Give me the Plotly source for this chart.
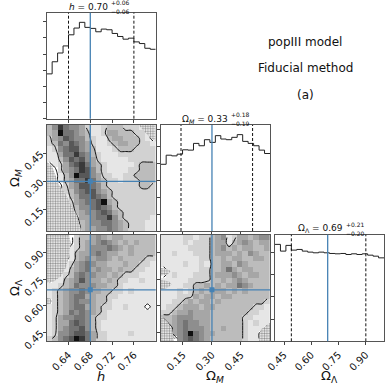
import numpy as np
import plotly.graph_objects as go

W = H = 387
FONT = "DejaVu Sans"
TRUTH_COLOR = "#4682b4"
FRAME = "#555555"

# parameters: h, Omega_M, Omega_Lambda
axis_labels = ["<i>h</i>", "Ω<sub><i>M</i></sub>", "Ω<sub>Λ</sub>"]
medians = [0.70, 0.33, 0.69]
err_hi = [0.06, 0.18, 0.21]
err_lo = [0.06, 0.19, 0.20]
truths = [0.68, 0.30, 0.69]
ranges = [(0.60, 0.80), (0.035, 0.60), (0.40, 1.00)]
tick_vals = [[0.64, 0.68, 0.72, 0.76], [0.15, 0.30, 0.45], [0.45, 0.60, 0.75, 0.90]]

# 1D histograms (20 bins over each range)
h_counts = [133, 169, 195, 216, 249, 269, 286, 271, 268, 258,
            266, 264, 253, 244, 236, 239, 228, 223, 209, 206]
om_counts = [198, 225, 223, 228, 241, 240, 260, 253, 271, 263,
             283, 273, 271, 278, 286, 266, 260, 253, 240, 230]
ol_counts = [288, 268, 285, 271, 273, 268, 265, 263, 265, 263,
             261, 260, 261, 258, 260, 258, 260, 256, 253, 248]
hist_counts = [h_counts, om_counts, ol_counts]
hist_dtick = [48, 50, 66]

# 2D density (20x20, rows listed from top of panel to bottom)
dens_h_om = [
    [3, 5, 8, 6, 5, 5, 4, 2, 1, 1, 2, 3, 3, 3, 2, 2, 2, 1, 0, 0],
    [3, 4, 9, 6, 6, 5, 4, 3, 1, 1, 2, 4, 4, 3, 3, 3, 2, 2, 1, 0],
    [2, 4, 5, 7, 6, 5, 5, 3, 2, 1, 1, 3, 4, 4, 3, 3, 3, 2, 1, 0],
    [2, 3, 6, 5, 7, 6, 5, 4, 2, 1, 1, 2, 3, 4, 4, 3, 3, 2, 2, 1],
    [1, 2, 5, 6, 7, 7, 5, 4, 3, 1, 1, 1, 2, 3, 3, 3, 2, 2, 2, 2],
    [1, 1, 4, 6, 6, 8, 6, 5, 3, 2, 1, 1, 1, 2, 2, 2, 2, 2, 2, 2],
    [1, 1, 3, 5, 7, 6, 7, 5, 4, 2, 1, 1, 1, 1, 1, 2, 2, 2, 2, 2],
    [0, 1, 2, 4, 6, 7, 8, 6, 4, 3, 2, 1, 1, 1, 1, 1, 2, 3, 3, 3],
    [0, 0, 2, 4, 5, 6, 8, 7, 5, 3, 2, 1, 1, 1, 1, 2, 2, 3, 3, 3],
    [0, 0, 1, 3, 5, 9, 7, 7, 5, 4, 2, 2, 1, 1, 2, 2, 3, 3, 3, 3],
    [0, 0, 1, 3, 4, 6, 6, 8, 6, 4, 3, 2, 2, 1, 2, 2, 2, 3, 3, 3],
    [0, 0, 0, 2, 4, 5, 7, 7, 6, 5, 3, 2, 2, 2, 2, 2, 2, 3, 3, 2],
    [0, 0, 0, 2, 3, 5, 6, 7, 7, 5, 4, 3, 2, 2, 2, 2, 2, 2, 2, 2],
    [0, 0, 0, 1, 3, 4, 6, 6, 7, 6, 5, 3, 2, 2, 2, 2, 2, 2, 2, 2],
    [0, 0, 0, 1, 2, 4, 5, 6, 6, 7, 9, 4, 3, 2, 2, 2, 2, 2, 2, 2],
    [0, 0, 0, 0, 2, 3, 5, 5, 6, 7, 6, 5, 3, 2, 2, 2, 2, 2, 2, 2],
    [0, 0, 0, 0, 1, 3, 4, 5, 5, 6, 7, 6, 4, 3, 2, 2, 2, 2, 2, 2],
    [0, 0, 0, 0, 1, 2, 4, 4, 5, 6, 6, 8, 5, 3, 2, 2, 2, 2, 2, 1],
    [0, 0, 0, 0, 0, 2, 3, 4, 5, 5, 6, 6, 5, 4, 3, 2, 2, 2, 1, 1],
    [0, 0, 0, 0, 0, 1, 3, 4, 4, 5, 5, 6, 5, 4, 3, 2, 2, 2, 1, 1],
]
dens_h_ol = [
    [0, 0, 0, 0, 0, 2, 3, 3, 4, 5, 4, 3, 4, 4, 3, 3, 3, 3, 3, 3],
    [0, 0, 0, 0, 0, 2, 3, 4, 4, 5, 6, 5, 4, 3, 4, 3, 4, 3, 3, 3],
    [0, 0, 0, 0, 1, 2, 3, 4, 5, 5, 5, 6, 5, 4, 3, 4, 3, 3, 3, 3],
    [0, 0, 0, 0, 1, 3, 4, 4, 5, 6, 5, 4, 4, 3, 3, 4, 3, 3, 3, 3],
    [0, 0, 0, 0, 1, 3, 4, 5, 4, 5, 5, 4, 3, 4, 3, 3, 3, 3, 2, 2],
    [0, 0, 0, 1, 2, 4, 5, 6, 5, 4, 4, 3, 3, 3, 4, 3, 3, 2, 2, 1],
    [0, 0, 0, 1, 3, 4, 5, 6, 4, 5, 4, 4, 3, 4, 3, 3, 2, 2, 1, 1],
    [0, 0, 1, 2, 3, 5, 6, 5, 5, 4, 4, 3, 4, 3, 2, 2, 2, 1, 1, 1],
    [0, 1, 1, 3, 4, 5, 7, 5, 4, 4, 3, 4, 3, 2, 2, 1, 1, 2, 1, 1],
    [1, 1, 2, 3, 4, 6, 5, 5, 5, 4, 4, 3, 3, 2, 1, 1, 1, 1, 1, 1],
    [1, 2, 3, 4, 5, 5, 6, 5, 4, 4, 3, 3, 2, 2, 1, 2, 1, 1, 1, 1],
    [1, 2, 3, 4, 5, 6, 6, 4, 4, 3, 3, 2, 2, 1, 1, 1, 1, 1, 1, 1],
    [0, 2, 3, 4, 5, 6, 5, 5, 4, 3, 3, 2, 1, 1, 1, 1, 1, 1, 1, 1],
    [1, 2, 3, 4, 5, 6, 6, 4, 4, 3, 2, 2, 1, 1, 2, 1, 1, 1, 0, 1],
    [1, 2, 3, 4, 6, 5, 6, 5, 4, 3, 2, 1, 1, 1, 1, 1, 1, 1, 1, 1],
    [1, 2, 4, 5, 5, 6, 6, 5, 3, 2, 2, 1, 1, 1, 1, 1, 1, 1, 1, 1],
    [1, 2, 4, 4, 6, 7, 6, 5, 3, 2, 1, 1, 1, 1, 1, 1, 1, 1, 1, 1],
    [1, 2, 4, 5, 6, 6, 7, 5, 3, 2, 1, 1, 1, 1, 1, 1, 1, 1, 1, 1],
    [1, 2, 5, 5, 6, 7, 7, 6, 4, 2, 2, 1, 1, 1, 1, 2, 1, 1, 1, 1],
    [2, 3, 5, 6, 7, 9, 8, 6, 4, 2, 2, 1, 1, 1, 1, 1, 1, 1, 1, 1],
]
dens_om_ol = [
    [1, 1, 1, 1, 2, 2, 1, 2, 2, 3, 4, 5, 1, 2, 4, 4, 3, 4, 5, 5],
    [1, 1, 1, 1, 2, 1, 2, 2, 2, 3, 4, 4, 1, 3, 4, 5, 4, 3, 4, 4],
    [1, 1, 1, 1, 1, 2, 2, 2, 2, 3, 4, 5, 3, 4, 3, 4, 4, 3, 3, 4],
    [1, 1, 2, 1, 1, 1, 2, 2, 2, 3, 4, 4, 4, 3, 4, 3, 5, 4, 3, 3],
    [1, 1, 1, 1, 1, 1, 1, 2, 2, 3, 3, 4, 3, 4, 4, 3, 3, 4, 4, 3],
    [1, 1, 1, 1, 2, 1, 1, 2, 1, 3, 3, 4, 4, 3, 5, 4, 3, 3, 3, 3],
    [0, 1, 1, 1, 1, 1, 1, 2, 2, 3, 3, 4, 6, 4, 3, 4, 4, 3, 3, 3],
    [0, 1, 2, 1, 1, 1, 2, 2, 2, 3, 4, 4, 4, 5, 4, 3, 4, 4, 3, 3],
    [1, 1, 1, 1, 1, 2, 2, 2, 2, 3, 3, 4, 3, 4, 5, 4, 3, 3, 3, 3],
    [0, 1, 1, 1, 2, 2, 3, 3, 4, 3, 4, 3, 4, 4, 6, 5, 4, 3, 3, 3],
    [1, 1, 1, 2, 1, 2, 3, 4, 3, 4, 4, 4, 3, 4, 3, 4, 3, 3, 3, 3],
    [1, 1, 1, 2, 2, 2, 4, 3, 4, 4, 3, 4, 4, 3, 3, 3, 3, 3, 3, 3],
    [1, 1, 2, 2, 3, 4, 3, 4, 4, 3, 4, 3, 3, 3, 3, 3, 3, 3, 3, 2],
    [1, 2, 2, 3, 4, 4, 4, 3, 4, 4, 3, 3, 3, 3, 3, 3, 3, 2, 2, 1],
    [2, 2, 3, 4, 4, 5, 4, 4, 4, 3, 3, 3, 3, 3, 3, 3, 2, 2, 1, 1],
    [3, 3, 4, 5, 5, 5, 4, 4, 4, 3, 3, 3, 3, 3, 3, 2, 2, 1, 1, 1],
    [0, 3, 4, 5, 6, 5, 5, 4, 4, 3, 3, 3, 3, 3, 3, 2, 1, 2, 1, 1],
    [0, 0, 4, 5, 6, 5, 5, 5, 4, 3, 3, 4, 3, 3, 3, 2, 1, 1, 1, 0],
    [0, 0, 4, 5, 6, 9, 6, 5, 4, 4, 3, 3, 3, 3, 3, 2, 1, 1, 0, 0],
    [0, 0, 0, 5, 6, 7, 6, 5, 4, 3, 3, 3, 3, 3, 3, 2, 1, 1, 0, 0],
]

# low-density regions where individual samples show (outline in data coords)
speckle_h_om = [
    ([0.600, 0.609, 0.615, 0.621, 0.634, 0.643, 0.655, 0.664, 0.600],
     [0.404, 0.386, 0.342, 0.289, 0.236, 0.183, 0.122, 0.035, 0.035]),
    ([0.769, 0.779, 0.791, 0.800, 0.800],
     [0.600, 0.565, 0.529, 0.512, 0.600]),
]
speckle_h_ol = [
    ([0.600, 0.641, 0.644, 0.641, 0.635, 0.626, 0.613, 0.600],
     [1.000, 1.000, 0.953, 0.878, 0.812, 0.766, 0.737, 0.728]),
    ([0.600, 0.607, 0.610, 0.606, 0.600],
     [0.645, 0.640, 0.625, 0.610, 0.607]),
]
speckle_om_ol = [
    ([0.035, 0.069, 0.087, 0.069, 0.035], [0.812, 0.807, 0.794, 0.775, 0.771]),
    ([0.035, 0.078, 0.092, 0.069, 0.035], [0.747, 0.737, 0.719, 0.700, 0.691]),
    ([0.035, 0.069, 0.095, 0.104, 0.035], [0.541, 0.512, 0.466, 0.400, 0.400]),
    ([0.600, 0.552, 0.543, 0.600], [0.503, 0.466, 0.400, 0.400]),
]

# panel layout (pixel boxes)
col_px = [(46.7, 155.7), (160.7, 270.0), (275.0, 384.0)]
row_px = [(12.7, 118.7), (125.0, 231.0), (234.7, 341.3)]
panels = [(0, 0), (1, 0), (1, 1), (2, 0), (2, 1), (2, 2)]
dens_2d = {(1, 0): (dens_h_om, speckle_h_om),
           (2, 0): (dens_h_ol, speckle_h_ol),
           (2, 1): (dens_om_ol, speckle_om_ol)}


def sfx(n):
    return "" if n == 1 else str(n)


fig = go.Figure()
layout = {}
shapes = []
# density shading: 0 is see-through, higher counts darker
gray = [[0.0, "rgba(255,255,255,0)"], [0.05, "rgba(245,245,245,1)"],
        [0.111, "#e6e6e6"], [0.222, "#d2d2d2"], [0.333, "#bcbcbc"],
        [0.444, "#a6a6a6"], [0.556, "#8e8e8e"], [0.667, "#747474"],
        [0.778, "#585858"], [0.889, "#3a3a3a"], [1.0, "#101010"]]

for n, (r, c) in enumerate(panels, start=1):
    xr, yr = f"x{sfx(n)}", f"y{sfx(n)}"
    xlo, xhi = ranges[c]
    if r == c:
        counts = hist_counts[c]
        edges = np.linspace(xlo, xhi, len(counts) + 1)
        fig.add_trace(go.Scatter(
            x=edges, y=list(counts) + [counts[-1]], mode="lines",
            line=dict(color="#222", width=1, shape="hv"),
            xaxis=xr, yaxis=yr, showlegend=False, hoverinfo="skip"))
        yrange = [0, 1.1 * max(counts)]
        for q in (medians[c] - err_lo[c], medians[c] + err_hi[c]):
            shapes.append(dict(type="line", xref=xr, yref=f"{yr} domain",
                               x0=q, x1=q, y0=0, y1=1,
                               line=dict(color="#111", width=1, dash="3px,2px")))
        shapes.append(dict(type="line", xref=xr, yref=f"{yr} domain",
                           x0=truths[c], x1=truths[c], y0=0, y1=1,
                           line=dict(color=TRUTH_COLOR, width=1.3)))
    else:
        grid, speckles = dens_2d[(r, c)]
        ylo, yhi = ranges[r]
        z = grid[::-1]
        nx, ny = len(z[0]), len(z)
        dx, dy = (xhi - xlo) / nx, (yhi - ylo) / ny
        for sx, sy in speckles:
            fig.add_trace(go.Scatter(
                x=sx, y=sy, fill="toself", mode="none", fillcolor="white",
                fillpattern=dict(shape=".", fgcolor="#222", bgcolor="white",
                                 size=2.5, solidity=0.5),
                xaxis=xr, yaxis=yr, showlegend=False, hoverinfo="skip"))
        fig.add_trace(go.Heatmap(
            z=z, x0=xlo + dx / 2, dx=dx, y0=ylo + dy / 2, dy=dy,
            colorscale=gray, zmin=0, zmax=9, showscale=False,
            xaxis=xr, yaxis=yr, hoverinfo="skip"))
        fig.add_trace(go.Contour(
            z=z, x0=xlo + dx / 2, dx=dx, y0=ylo + dy / 2, dy=dy,
            contours=dict(coloring="lines", start=0.5, end=2.5, size=2.0),
            line=dict(color="#111", width=1, smoothing=0.8),
            colorscale=[[0, "#111"], [1, "#111"]],
            showscale=False, xaxis=xr, yaxis=yr, hoverinfo="skip"))
        yrange = [ylo, yhi]
        shapes.append(dict(type="line", xref=xr, yref=f"{yr} domain",
                           x0=truths[c], x1=truths[c], y0=0, y1=1,
                           line=dict(color=TRUTH_COLOR, width=1.3)))
        shapes.append(dict(type="line", xref=f"{xr} domain", yref=yr,
                           x0=0, x1=1, y0=truths[r], y1=truths[r],
                           line=dict(color=TRUTH_COLOR, width=1.3)))
        fig.add_trace(go.Scatter(
            x=[truths[c]], y=[truths[r]], mode="markers",
            marker=dict(symbol="square", size=5, color=TRUTH_COLOR),
            xaxis=xr, yaxis=yr, showlegend=False, hoverinfo="skip"))

    common = dict(showline=True, mirror=True, linecolor=FRAME, linewidth=1,
                  showgrid=False, zeroline=False, ticks="outside", ticklen=3,
                  automargin=False,
                  tickcolor="#444", tickfont=dict(family=FONT, size=10, color="#111"))
    layout[f"xaxis{sfx(n)}"] = dict(
        common, domain=[col_px[c][0] / W, col_px[c][1] / W], anchor=yr,
        range=list(ranges[c]), tickvals=tick_vals[c],
        ticktext=[f"{v:.2f}" for v in tick_vals[c]],
        showticklabels=(r == 2), tickangle=-45)
    ydict = dict(common, domain=[1 - row_px[r][1] / H, 1 - row_px[r][0] / H],
                 anchor=xr, range=yrange)
    if r == c:
        ydict.update(dtick=hist_dtick[c], tick0=0, showticklabels=False)
    else:
        ydict.update(tickvals=tick_vals[r],
                     ticktext=[f"{v:.2f}" for v in tick_vals[r]],
                     showticklabels=(c == 0), tickangle=-45)
    layout[f"yaxis{sfx(n)}"] = ydict

# titles over the 1D panels
annotations = []
title_shift = [9, 15, 15]
title_names = ["<i>h</i>", "Ω<sub><i>M</i></sub>", "Ω<sub>Λ</sub>"]
for i in range(3):
    cx = (col_px[i][0] + col_px[i][1]) / 2 + title_shift[i]
    ty = row_px[i][0] - 6
    annotations.append(dict(
        x=cx / W, y=1 - ty / H, xref="paper", yref="paper",
        xanchor="right", yanchor="middle", showarrow=False,
        text=f"{title_names[i]} = {medians[i]:.2f}",
        font=dict(family=FONT, size=9, color="#111")))
    annotations.append(dict(
        x=cx / W, y=1 - (ty + 0.5) / H, xref="paper", yref="paper",
        xanchor="left", yanchor="bottom", showarrow=False, borderpad=0,
        text=f"+{err_hi[i]:.2f}", font=dict(family=FONT, size=6, color="#111")))
    annotations.append(dict(
        x=cx / W, y=1 - (ty + 0.5) / H, xref="paper", yref="paper",
        xanchor="left", yanchor="top", showarrow=False, borderpad=0,
        text=f"−{err_lo[i]:.2f}", font=dict(family=FONT, size=6, color="#111")))

# axis labels
for i in range(3):
    cx = (col_px[i][0] + col_px[i][1]) / 2
    annotations.append(dict(
        x=cx / W, y=1 - 376 / H, xref="paper", yref="paper",
        xanchor="center", yanchor="middle", showarrow=False,
        text=axis_labels[i], font=dict(family=FONT, size=13, color="#111")))
for i in (1, 2):
    cy = (row_px[i][0] + row_px[i][1]) / 2
    annotations.append(dict(
        x=15 / W, y=1 - cy / H, xref="paper", yref="paper",
        xanchor="center", yanchor="middle", showarrow=False, textangle=-90,
        text=axis_labels[i], font=dict(family=FONT, size=13, color="#111")))

# text block
info_lines = ["popIII model", "Fiducial method", "(a)"]
info_y = [42, 68, 95]
for txt, yy in zip(info_lines, info_y):
    annotations.append(dict(
        x=305 / W, y=1 - yy / H, xref="paper", yref="paper",
        xanchor="center", yanchor="middle", showarrow=False,
        text=txt, font=dict(family=FONT, size=12, color="#111")))

fig.update_layout(
    width=W, height=H, margin=dict(l=0, r=0, t=0, b=0),
    paper_bgcolor="white", plot_bgcolor="white",
    font=dict(family=FONT), showlegend=False,
    shapes=shapes, annotations=annotations, **layout)

# the page body has a default margin; drop it so the figure sits at the corner
fig.write_html("out.html", config={"displayModeBar": False},
               post_script="document.body.style.margin='0';")
